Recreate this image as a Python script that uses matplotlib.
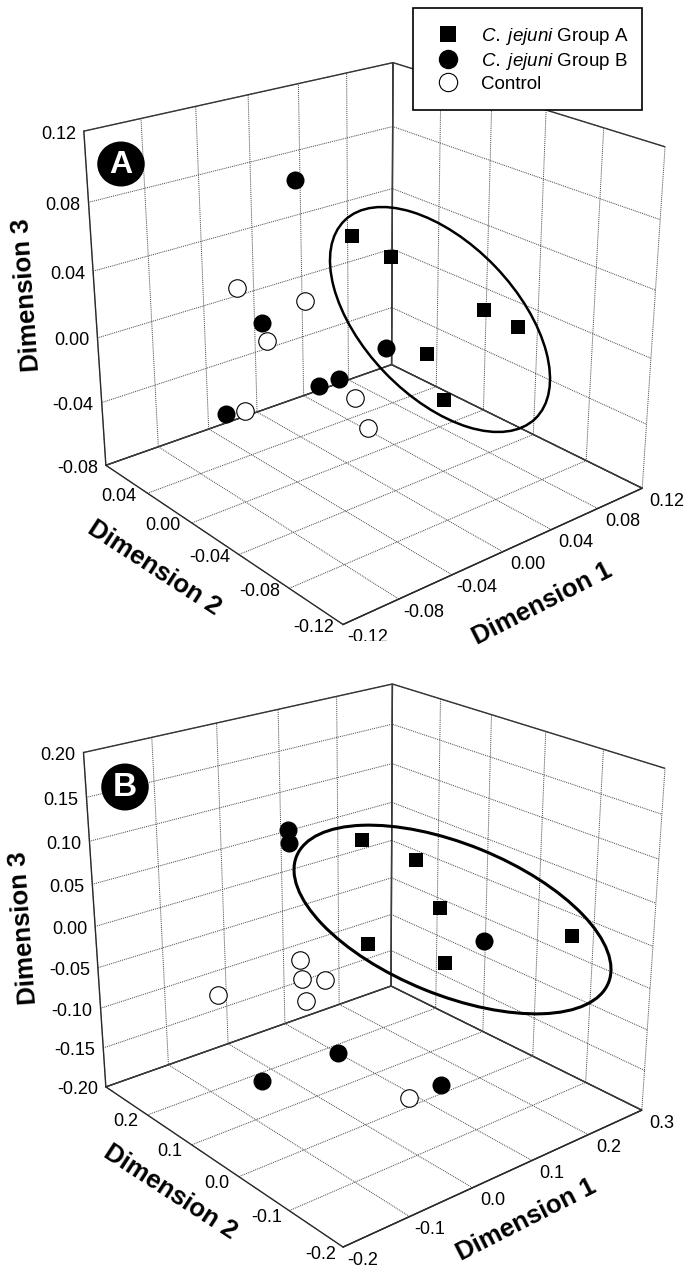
import matplotlib
matplotlib.use("Agg")
import matplotlib.pyplot as plt
from matplotlib.lines import Line2D
from matplotlib.patches import Ellipse, Rectangle
from mpl_toolkits.mplot3d import proj3d

plt.rcParams['font.family'] = ['Liberation Sans', 'DejaVu Sans']
plt.rcParams['mathtext.fontset'] = 'custom'
plt.rcParams['mathtext.it'] = 'Liberation Sans:italic'

# panel A
a_group_a_d1 = [-0.013, 0.016, 0.050, 0.063, 0.029, 0.031]
a_group_a_d2 = [-0.019, -0.020, -0.059, -0.073, -0.036, -0.048]
a_group_a_d3 = [0.068, 0.050, 0.024, 0.016, -0.005, -0.029]
a_group_b_d1 = [-0.022, -0.057, 0.012, -0.024, -0.033, -0.073]
a_group_b_d2 = [0.017, 0.008, -0.020, -0.019, -0.012, 0.023]
a_group_b_d3 = [0.091, 0.019, -0.003, -0.013, -0.017, -0.037]
a_control_d1 = [-0.067, -0.039, -0.055, -0.023, -0.030, -0.065]
a_control_d2 = [0.017, -0.008, 0.006, -0.031, -0.048, 0.016]
a_control_d3 = [0.039, 0.033, 0.009, -0.020, -0.029, -0.035]
a_ticks_d1 = [-0.12, -0.08, -0.04, 0.00, 0.04, 0.08, 0.12]
a_ticks_d2 = [-0.12, -0.08, -0.04, 0.00, 0.04, 0.08]
a_ticks_d3 = [-0.08, -0.04, 0.00, 0.04, 0.08, 0.12]
a_labels_d1 = ['-0.12', '-0.08', '-0.04', '0.00', '0.04', '0.08', '0.12']
a_labels_d2 = ['-0.12', '-0.08', '-0.04', '0.00', '0.04', '']
a_labels_d3 = ['-0.08', '-0.04', '0.00', '0.04', '0.08', '0.12']

# panel B
b_group_a_d1 = [0.054, 0.102, 0.120, 0.226, 0.046, 0.124]
b_group_a_d2 = [0.071, 0.024, -0.002, -0.131, 0.050, -0.009]
b_group_a_d3 = [0.106, 0.084, 0.032, 0.010, -0.008, -0.033]
b_group_b_d1 = [-0.033, -0.043, 0.154, -0.050, -0.115, 0.046]
b_group_b_d2 = [0.108, 0.093, -0.048, -0.008, 0.064, -0.091]
b_group_b_d3 = [0.126, 0.117, -0.003, -0.095, -0.134, -0.132]
b_control_d1 = [-0.035, -0.034, -0.013, -0.031, -0.107, -0.006]
b_control_d2 = [0.085, 0.084, 0.064, 0.081, 0.164, -0.091]
b_control_d3 = [-0.018, -0.040, -0.041, -0.066, -0.065, -0.132]
b_ticks_d1 = [-0.2, -0.1, 0.0, 0.1, 0.2, 0.3]
b_ticks_d2 = [-0.2, -0.1, 0.0, 0.1, 0.2, 0.3]
b_ticks_d3 = [-0.20, -0.15, -0.10, -0.05, 0.00, 0.05, 0.10, 0.15, 0.20]
b_labels_d1 = ['-0.2', '-0.1', '0.0', '0.1', '0.2', '0.3']
b_labels_d2 = ['-0.2', '-0.1', '0.0', '0.1', '0.2', '']
b_labels_d3 = ['-0.20', '-0.15', '-0.10', '-0.05', '0.00', '0.05', '0.10', '0.15', '0.20']

W, H = 688, 1273
PX = 0.72  # points per pixel at dpi 100
fig = plt.figure(figsize=(W / 100, H / 100), dpi=100)


def tick_label(ax, x, y, z, text, dx, dy, ha='center'):
    # label sits a fixed pixel offset away from the projected tick
    xp, yp, _ = proj3d.proj_transform(x, y, z, ax.get_proj())
    ax.annotate(text, (xp, yp), xytext=(dx * PX, -dy * PX), textcoords='offset points',
                ha=ha, va='center', fontsize=13, annotation_clip=False)


def make_panel(left, top, side, elev, azim, focal, aspect, t1, t2, t3, l1, l2, l3, off1, off2):
    ax = fig.add_axes([left / W, 1 - (top + side) / H, side / W, side / H], projection='3d')
    ax.patch.set_alpha(0)
    ax.view_init(elev=elev, azim=azim, roll=0.03)
    ax.set_proj_type('persp', focal_length=focal)
    ax.set_box_aspect(aspect)
    ax.set_xlim(t1[0], t1[-1], view_margin=0)
    ax.set_ylim(t2[0], t2[-1], view_margin=0)
    ax.set_zlim(t3[0], t3[-1], view_margin=0)
    ax.set_xticks(t1)
    ax.set_yticks(t2)
    ax.set_zticks(t3)
    ax.set_xticklabels([])
    ax.set_yticklabels([])
    ax.set_zticklabels([])
    for axis in (ax.xaxis, ax.yaxis, ax.zaxis):
        axis.pane.set_facecolor((1, 1, 1, 0))
        axis.pane.set_edgecolor('#2a2a2a')
        axis.pane.set_alpha(None)
        axis.pane.set_linewidth(1.0)
        axis.line.set_color('#2a2a2a')
        axis.line.set_linewidth(1.0)
        axis._axinfo['grid'].update(color='#444444', linewidth=0.7, linestyle=(0, (1, 1)))
        axis._axinfo['tick']['inward_factor'] = 0
        axis._axinfo['tick']['outward_factor'] = 0
    for v, s in zip(t1, l1):
        tick_label(ax, v, t2[0], t3[0], s, off1[0], off1[1])
    for v, s in zip(t2, l2):
        tick_label(ax, t1[0], v, t3[0], s, off2[0], off2[1])
    for v, s in zip(t3, l3):
        tick_label(ax, t1[0], t2[-1], v, s, -8, 3, ha='right')
    return ax


def draw_points(ax, sq, blk, wht):
    ax.plot(*sq, 's', color='black', ms=10.6, mew=0, zorder=5)
    ax.plot(*blk, 'o', color='black', ms=13, mew=0, zorder=5)
    ax.plot(*wht, 'o', mfc='white', mec='black', ms=12.6, mew=0.8, zorder=5)


ax_a = make_panel(36.9, -1.6, 649.8, 23.07, -129.85, 0.509, (1.004, 1.006, 0.930),
                  a_ticks_d1, a_ticks_d2, a_ticks_d3, a_labels_d1, a_labels_d2, a_labels_d3,
                  (25, 13), (-29, 3))
draw_points(ax_a, (a_group_a_d1, a_group_a_d2, a_group_a_d3),
            (a_group_b_d1, a_group_b_d2, a_group_b_d3),
            (a_control_d1, a_control_d2, a_control_d3))

ax_b = make_panel(36.5, 620.0, 650.05, 23.16, -129.86, 0.504, (0.997, 1.001, 0.926),
                  b_ticks_d1, b_ticks_d2, b_ticks_d3, b_labels_d1, b_labels_d2, b_labels_d3,
                  (20, 13), (-22, 7))
draw_points(ax_b, (b_group_a_d1, b_group_a_d2, b_group_a_d3),
            (b_group_b_d1, b_group_b_d2, b_group_b_d3),
            (b_control_d1, b_control_d2, b_control_d3))

# overlay in image pixels for the hand drawn bits
ov = fig.add_axes([0, 0, 1, 1], zorder=10)
ov.set_xlim(0, W)
ov.set_ylim(H, 0)
ov.axis('off')
ov.patch.set_alpha(0)

# the source crops the last tick label of panel A
ov.add_patch(Rectangle((345, 641), 55, 14, fc='white', ec='none'))

ov.add_patch(Ellipse((440, 319.5), 275, 153, angle=46.2, fill=False, ec='black', lw=1.8))
ov.add_patch(Ellipse((452.5, 919.5), 336.6, 151, angle=22.1, fill=False, ec='black', lw=2.2))

ov.add_patch(Ellipse((121, 164), 47.5, 45, fc='black', ec='none'))
ov.text(121, 165, 'A', color='white', fontsize=23, fontweight='bold', ha='center', va='center')
ov.add_patch(Ellipse((125, 787), 47.5, 47, fc='black', ec='none'))
ov.text(125, 788, 'B', color='white', fontsize=24, fontweight='bold', ha='center', va='center')

label_kw = dict(fontsize=18.6, fontweight='bold', ha='center', va='center', rotation_mode='anchor')
ov.text(27, 295, 'Dimension 3', rotation=94, **label_kw)
ov.text(154, 568, 'Dimension 2', rotation=-33, **label_kw)
ov.text(542, 604, 'Dimension 1', rotation=27, **label_kw)
ov.text(23.5, 927.5, 'Dimension 3', rotation=94, **label_kw)
ov.text(170, 1192, 'Dimension 2', rotation=-33, **label_kw)
ov.text(526, 1220, 'Dimension 1', rotation=27, **label_kw)

# legend
ov.add_patch(Rectangle((413, 7.5), 228.5, 102.5, fc='white', ec='black', lw=1.2, zorder=3))
handles = [Line2D([], [], ls='none', marker='s', color='black', ms=11.8, mew=0),
           Line2D([], [], ls='none', marker='o', color='black', ms=14, mew=0),
           Line2D([], [], ls='none', marker='o', mfc='white', mec='black', ms=13.2, mew=0.8)]
names = [r'$\mathit{C.\;jejuni}$ Group A', r'$\mathit{C.\;jejuni}$ Group B', 'Control']
ov.legend(handles, names, loc='upper left', bbox_to_anchor=(437 / W, 1 - 26 / H),
          bbox_transform=fig.transFigure, frameon=False, fontsize=13.5, borderpad=0,
          borderaxespad=0, handlelength=1.2, handletextpad=1.15, labelspacing=0.2).set_zorder(4)

fig.savefig('out.png', dpi=100)
